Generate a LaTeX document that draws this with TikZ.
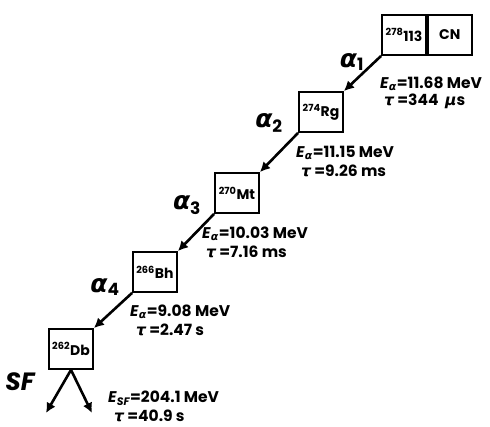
\documentclass[tikz,border=0pt]{standalone}
\usepackage{fontspec}
\setmainfont{Poppins}
\newfontfamily\grk{DejaVu Sans}
\usetikzlibrary{arrows.meta}

\newcommand{\agr}{{\grk\itshape α}}
\newcommand{\tgr}{{\grk\itshape τ}}
\newcommand{\mgr}{{\grk\itshape μ}}

\begin{document}
\begin{tikzpicture}[x=1pt,y=-1pt,
    nucbox/.style={draw, line width=1.8pt, minimum width=44pt, minimum height=40pt,
      inner sep=0pt, font=\bfseries\fontsize{14}{14}\selectfont},
    decay/.style={line width=2.6pt, -{Latex[length=10pt,width=10pt]}},
    elabel/.style={anchor=west, inner sep=0pt, font=\bfseries\fontsize{15.5}{15.5}\selectfont},
    alabel/.style={inner sep=0pt, font=\bfseries\fontsize{25}{25}\selectfont}]
  \useasboundingbox (0,0) rectangle (490,427);

  % chain of nuclei
  \node[nucbox] (n278) at (404,35) {\raisebox{-5pt}{\textsuperscript{278}113}};
  \node[nucbox, anchor=west] (cn) at (n278.east) {CN};
  \node[nucbox] (rg) at (321,112) {\raisebox{-5pt}{\textsuperscript{274}Rg}};
  \node[nucbox] (mt) at (237,193) {\raisebox{-5pt}{\textsuperscript{270}Mt}};
  \node[nucbox] (bh) at (155,272) {\raisebox{-5pt}{\textsuperscript{266}Bh}};
  \node[nucbox] (db) at (71,349) {\raisebox{-5pt}{\textsuperscript{262}Db}};

  % alpha decays
  \draw[decay] (n278.south west) -- (rg.north east);
  \draw[decay] (rg.south west) -- (mt.north east);
  \draw[decay] (mt.south west) -- (bh.north east);
  \draw[decay] (bh.south west) -- (db.north east);

  % fission
  \coordinate (f1) at (46,413);
  \coordinate (f2) at (92,413);
  \draw[decay] (db.south) -- (f1);
  \draw[decay] (db.south) -- (f2);

  \node[alabel] (a1) at (352,62) {\agr\textsubscript{\fontsize{17}{17}\selectfont 1}};
  \node[alabel] (a2) at (269,123) {\agr\textsubscript{\fontsize{17}{17}\selectfont 2}};
  \node[alabel] (a3) at (187,205) {\agr\textsubscript{\fontsize{17}{17}\selectfont 3}};
  \node[alabel] (a4) at (105,287) {\agr\textsubscript{\fontsize{17}{17}\selectfont 4}};
  \node[alabel] (sf) at (20,382) {\itshape SF};

  % energies and lifetimes
  \node[elabel] (e1) at (380,84) {\textit{E}\textsubscript{\agr}=11.68 MeV};
  \node[elabel] (t1) at (384,101) {\tgr\ =344\ \ \mgr s};
  \node[elabel] (e2) at (296,153) {\textit{E}\textsubscript{\agr}=11.15 MeV};
  \node[elabel] (t2) at (301,171) {\tgr\ =9.26 ms};
  \node[elabel] (e3) at (202,234) {\textit{E}\textsubscript{\agr}=10.03 MeV};
  \node[elabel] (t3) at (206,252) {\tgr\ =7.16 ms};
  \node[elabel] (e4) at (130,312) {\textit{E}\textsubscript{\agr}=9.08 MeV};
  \node[elabel] (t4) at (136,330) {\tgr\ =2.47 s};
  \node[elabel] (e5) at (108,398) {\textit{E}\textsubscript{\itshape SF}=204.1 MeV};
  \node[elabel] (t5) at (114,416) {\tgr\ =40.9 s};
\end{tikzpicture}
\end{document}
